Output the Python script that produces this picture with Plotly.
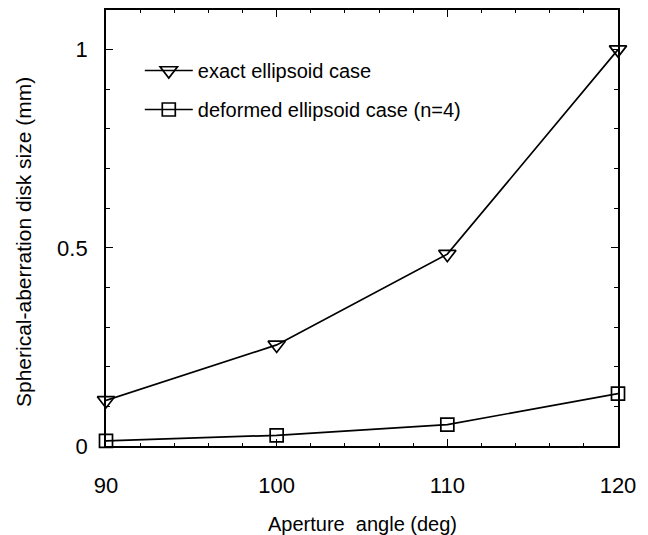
import plotly.graph_objects as go

# Aperture angle (deg) and spherical-aberration disk size (mm)
aperture_deg = [90, 100, 110, 120]
exact_ellipsoid = [0.115, 0.255, 0.484, 1.0]
deformed_ellipsoid = [0.013, 0.027, 0.054, 0.132]

y_tick_vals = [0, 0.5, 1]
y_tick_text = ["0", "0.5", "1"]
y_minor_vals = [0.1, 0.2, 0.3, 0.4, 0.6, 0.7, 0.8, 0.9]
x_tick_vals = [90, 100, 110, 120]

FONT = "Liberation Sans, Arial, sans-serif"

fig = go.Figure()
fig.add_trace(go.Scatter(
    x=aperture_deg, y=exact_ellipsoid, mode="lines+markers",
    name="exact ellipsoid case", legendgroup="a",
    line=dict(color="black", width=1.7),
    marker=dict(symbol="triangle-down-open", size=15, color="black",
                line=dict(width=1.7, color="black")),
    cliponaxis=False,
))
fig.add_trace(go.Scatter(
    x=aperture_deg, y=deformed_ellipsoid, mode="lines+markers",
    name="deformed ellipsoid case (n=4)", legendgroup="b",
    line=dict(color="black", width=1.7),
    marker=dict(symbol="square-open", size=13, color="black",
                line=dict(width=1.7, color="black")),
    cliponaxis=False,
))

# Axis titles drawn as free text so the plot box keeps its fixed margins
fig.add_annotation(
    text="Spherical-aberration disk size (mm)",
    xref="paper", yref="paper", x=-0.16, y=0.468,
    xanchor="center", yanchor="middle", textangle=-90, showarrow=False,
    font=dict(size=21, family=FONT, color="black"),
)
fig.add_annotation(
    text="Aperture  angle (deg)",
    xref="paper", yref="paper", x=0.5, y=-0.178,
    xanchor="center", yanchor="middle", showarrow=False,
    font=dict(size=20, family=FONT, color="black"),
)

fig.update_layout(
    width=648, height=535,
    margin=dict(l=106, r=30, t=10, b=89),
    paper_bgcolor="white", plot_bgcolor="white",
    font=dict(family=FONT, color="black"),
    showlegend=True,
    legend=dict(
        x=0.066, y=0.906, xanchor="left", yanchor="top",
        bgcolor="rgba(0,0,0,0)", font=dict(size=20, family=FONT),
        itemwidth=48, tracegroupgap=10,
    ),
    xaxis=dict(
        range=[90, 120], tickvals=x_tick_vals, automargin=False,
        ticks="inside", ticklen=7, tickwidth=1.3, tickcolor="black",
        mirror="ticks", showline=True, linecolor="black", linewidth=1.8,
        showgrid=False, zeroline=False,
        tickfont=dict(size=22, family=FONT),
        ticklabelstandoff=19,
        minor=dict(ticks="inside", dtick=2, ticklen=3, tickcolor="black"),
    ),
    yaxis=dict(
        range=[0, 1.1], tickvals=y_tick_vals, ticktext=y_tick_text,
        automargin=False,
        ticks="inside", ticklen=7, tickwidth=1.3, tickcolor="black",
        mirror="ticks", showline=True, linecolor="black", linewidth=1.8,
        showgrid=False, zeroline=False,
        tickfont=dict(size=22, family=FONT),
        ticklabelstandoff=12,
        minor=dict(ticks="inside", tickvals=y_minor_vals,
                   ticklen=4, tickcolor="black"),
    ),
)

fig.write_html("out.html")
